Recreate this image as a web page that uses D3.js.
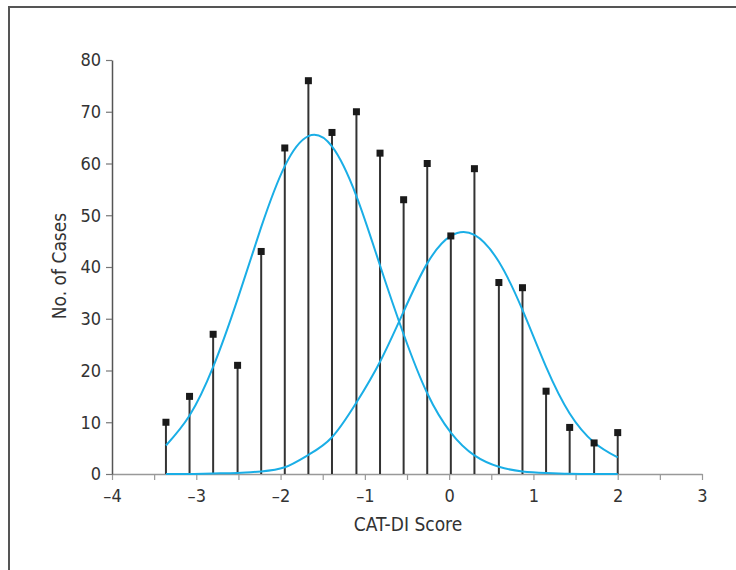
<!DOCTYPE html>
<html>
<head>
  <meta charset="utf-8">
  <script src="https://d3js.org/d3.v7.min.js"></script>
  <style>
    body, html { margin: 0; padding: 0; background: #fff; overflow: hidden; }
    text { font-family: "Liberation Sans Narrow", "DejaVu Sans Condensed", "Roboto", sans-serif; fill: #333; }
  </style>
</head>
<body>
  <div id="chart"></div>
  <script>
    // Stem positions (CAT-DI score) and observed counts
    const scores = [-3.36, -3.08, -2.80, -2.51, -2.23, -1.95, -1.67, -1.39, -1.10, -0.82,
                    -0.54, -0.26, 0.02, 0.30, 0.59, 0.87, 1.15, 1.43, 1.72, 2.00];
    const counts = [10, 15, 27, 21, 43, 63, 76, 66, 70, 62,
                    53, 60, 46, 59, 37, 36, 16, 9, 6, 8];
    // Fitted curves at the same positions
    const curveLow = [5.5, 11.3, 20.7, 33.8, 47.7, 59.5, 65.3, 63.3, 53.7, 40.3,
                      27.0, 15.6, 8.0, 3.6, 1.4, 0.5, 0.2, 0.05, 0, 0];
    const curveHigh = [0, 0, 0.1, 0.2, 0.5, 1.3, 3.7, 7.1, 13.8, 21.7,
                       31.4, 40.7, 46.0, 46.2, 41.0, 31.7, 20.7, 11.7, 6.1, 3.2];
    const xTicks = [-4, -3.5, -3, -2.5, -2, -1.5, -1, -0.5, 0, 0.5, 1, 1.5, 2, 2.5, 3];
    const yTicks = [0, 10, 20, 30, 40, 50, 60, 70, 80];

    const width = 736, height = 570;
    const svg = d3.select("#chart").append("svg")
      .attr("width", width).attr("height", height);

    // outer frame (runs off right and bottom)
    svg.append("rect")
      .attr("x", 9).attr("y", 7)
      .attr("width", 800).attr("height", 700)
      .attr("fill", "none").attr("stroke", "#555").attr("stroke-width", 2);

    const x = d3.scaleLinear().domain([-4, 3]).range([112, 702]);
    const y = d3.scaleLinear().domain([0, 80]).range([474, 60]);

    // x axis
    const xAxis = svg.append("g")
      .attr("transform", `translate(0,${y(0)})`)
      .call(d3.axisBottom(x).tickValues(xTicks).tickSize(6).tickSizeOuter(0)
        .tickFormat(d => Number.isInteger(d) ? (d < 0 ? "\u2013" + Math.abs(d) : d) : ""));
    xAxis.select(".domain").attr("stroke", "#999").attr("stroke-width", 1.5);
    xAxis.selectAll(".tick line").attr("stroke", "#999").attr("stroke-width", 1.2);
    xAxis.selectAll(".tick text").attr("font-size", 18).attr("dy", "1.05em").attr("fill", "#333");

    // y axis
    const yAxis = svg.append("g")
      .attr("transform", `translate(${x(-4)},0)`)
      .call(d3.axisLeft(y).tickValues(yTicks).tickSize(6).tickSizeOuter(0));
    yAxis.select(".domain").attr("stroke", "#555").attr("stroke-width", 1.5);
    yAxis.selectAll(".tick line").attr("stroke", "#777").attr("stroke-width", 1.2);
    yAxis.selectAll(".tick text").attr("font-size", 18).attr("dx", "-2").attr("fill", "#333");

    // axis titles
    svg.append("text")
      .attr("x", 408).attr("y", 531)
      .attr("text-anchor", "middle").attr("font-size", 19)
      .text("CAT-DI Score");
    svg.append("text")
      .attr("transform", "translate(66,266) rotate(-90)")
      .attr("text-anchor", "middle").attr("font-size", 19)
      .text("No. of Cases");

    const pts = scores.map((s, i) => ({ s, c: counts[i] }));

    // stems
    svg.append("g").selectAll("line")
      .data(pts).join("line")
      .attr("x1", d => x(d.s)).attr("x2", d => x(d.s))
      .attr("y1", y(0)).attr("y2", d => y(d.c))
      .attr("stroke", "#333").attr("stroke-width", 2);

    // fitted curves
    const line = d3.line()
      .x(d => x(d[0])).y(d => y(Math.max(0, d[1])))
      .curve(d3.curveNatural);
    [curveLow, curveHigh].forEach(vals => {
      svg.append("path")
        .datum(scores.map((s, i) => [s, vals[i]]))
        .attr("d", line)
        .attr("fill", "none")
        .attr("stroke", "#1aaee6")
        .attr("stroke-width", 2);
    });

    // square markers
    svg.append("g").selectAll("rect")
      .data(pts).join("rect")
      .attr("x", d => x(d.s) - 3.5).attr("y", d => y(d.c) - 3.5)
      .attr("width", 7).attr("height", 7)
      .attr("fill", "#1a1a1a");
  </script>
</body>
</html>
